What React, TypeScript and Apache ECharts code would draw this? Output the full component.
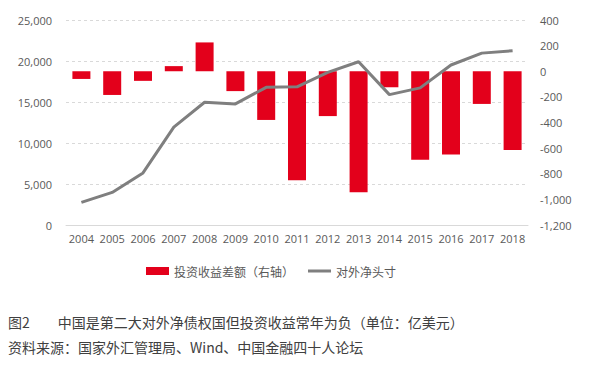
import React, { useEffect, useRef } from "react";
import * as echarts from "echarts";

const years = ["2004","2005","2006","2007","2008","2009","2010","2011","2012","2013","2014","2015","2016","2017","2018"];
const incomeGap = [-60, -185, -75, 40, 225, -155, -380, -850, -350, -945, -125, -690, -650, -255, -615];
const netPosition = [2760, 3970, 6350, 11940, 14970, 14770, 16790, 16850, 18610, 19910, 15900, 16720, 19510, 20960, 21250];
const barName = "投资收益差额（右轴）";
const lineName = "对外净头寸";
const captionTitle = "图2　　中国是第二大对外净债权国但投资收益常年为负（单位：亿美元）";
const captionSource = "资料来源：国家外汇管理局、Wind、中国金融四十人论坛";

const fmt = (v: number) => v.toLocaleString("en-US");

export default function App() {
  const ref = useRef<HTMLDivElement>(null);
  useEffect(() => {
    document.body.style.margin = "0";
    const chart = echarts.init(ref.current!, null, { renderer: "svg" });
    const labelFont = { fontFamily: "Open Sans, Liberation Sans, sans-serif", fontSize: 11, color: "#595959" };
    chart.setOption({
      animation: false,
      backgroundColor: "#ffffff",
      grid: { left: 66, right: 65, top: 20, bottom: 143 },
      legend: {
        left: 141,
        top: 260,
        itemWidth: 23,
        itemHeight: 8,
        itemGap: 14,
        textStyle: { fontFamily: "Noto Sans CJK SC", fontSize: 12, color: "#595959" },
        data: [
          { name: barName, icon: "rect" },
          { name: lineName, icon: "path://M0,0 H23 V3 H0 Z", itemStyle: { color: "#7f7f7f" } },
        ],
      },
      xAxis: {
        type: "category",
        data: years,
        axisLine: { lineStyle: { color: "#d9d9d9" } },
        axisTick: { show: false },
        axisLabel: { ...labelFont, margin: 8, interval: 0 },
      },
      yAxis: [
        {
          type: "value",
          min: 0,
          max: 25000,
          interval: 5000,
          axisLabel: { ...labelFont, margin: 14, formatter: fmt },
          axisLine: { show: false },
          splitLine: { lineStyle: { color: "#d9d9d9", type: [3, 3] } },
        },
        {
          type: "value",
          min: -1200,
          max: 400,
          interval: 200,
          axisLabel: { ...labelFont, margin: 12, formatter: fmt },
          axisLine: { show: false },
          splitLine: { show: false },
        },
      ],
      series: [
        {
          name: barName,
          type: "bar",
          yAxisIndex: 1,
          data: incomeGap,
          barWidth: 18,
          itemStyle: { color: "#e3001b" },
        },
        {
          name: lineName,
          type: "line",
          yAxisIndex: 0,
          data: netPosition,
          symbol: "none",
          lineStyle: { color: "#7f7f7f", width: 3 },
          itemStyle: { color: "#7f7f7f" },
        },
      ],
      graphic: [
        {
          type: "text",
          left: 8,
          top: 315,
          style: { text: captionTitle, fontFamily: "Noto Sans CJK SC", fontSize: 14, fill: "#404040" },
        },
        {
          type: "text",
          left: 8,
          top: 340,
          style: { text: captionSource, fontFamily: "Noto Sans CJK SC", fontSize: 14, fill: "#404040" },
        },
      ],
    });
    return () => chart.dispose();
  }, []);
  return <div ref={ref} style={{ width: 593, height: 368 }} />;
}
